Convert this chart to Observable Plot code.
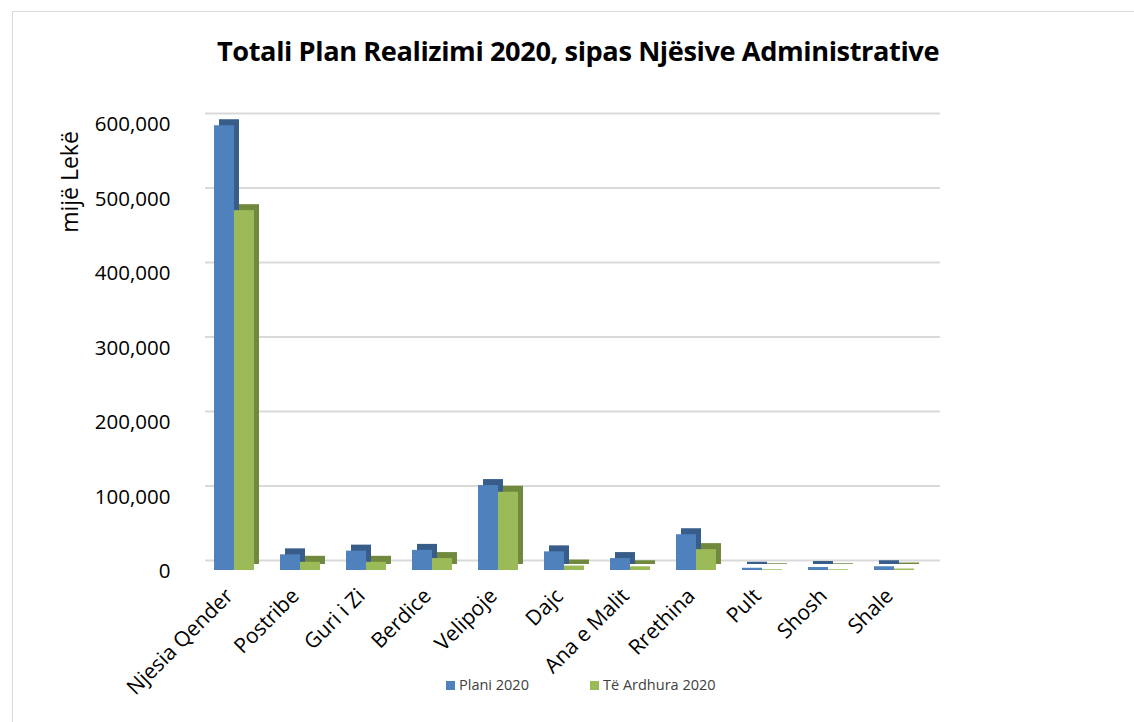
<!DOCTYPE html>
<html><head><meta charset="utf-8">
<script src="https://cdn.jsdelivr.net/npm/d3@7"></script>
<script src="https://cdn.jsdelivr.net/npm/@observablehq/plot@0.6"></script>
<style>
body{margin:0;background:#fff;font-family:"Open Sans",sans-serif;}
#wrap{position:relative;width:1134px;height:722px;overflow:hidden;}
#frame{position:absolute;left:12px;top:11px;width:1140px;height:740px;border:1px solid #d9d9d9;}
#title{position:absolute;left:0;width:1156px;top:32px;text-align:center;font-weight:700;font-size:27.2px;color:#000;letter-spacing:-0.4px;}
#ylab{position:absolute;left:69px;top:182px;transform:translate(-50%,-50%) rotate(-90deg);font-size:23px;color:#000;white-space:nowrap;}
.lg{position:absolute;top:675px;font-size:14.5px;color:#404040;white-space:nowrap;}
.lg span.sw{display:inline-block;width:9px;height:9px;margin-right:4px;vertical-align:0px;}
#chart{position:absolute;left:0;top:0;}
</style></head>
<body>
<div id="wrap">
<div id="frame"></div>
<div id="chart"></div>
<div id="title">Totali Plan Realizimi 2020, sipas Njësive Administrative</div>
<div id="ylab">mijë Lekë</div>
</div>
<script>
const categories = ["Njesia Qender","Postribe","Guri i Zi","Berdice","Velipoje","Dajc","Ana e Malit","Rrethina","Pult","Shosh","Shale"];
const seriesNames = ["Plani 2020","Të Ardhura 2020"];
const plani = [597000, 21000, 26000, 27000, 114000, 25000, 16000, 48000, 3000, 4000, 5000];
const ardhura = [483000, 11000, 11000, 16000, 105000, 6000, 5000, 28000, 1000, 1000, 2000];
const yTicks = [0,100000,200000,300000,400000,500000,600000];
const colors = ["#4F81BD","#9BBB59"];
const darkColors = ["#385D8A","#71893F"];

const planiData = categories.map((c,i)=>({cat:c, value:plani[i]}));
const ardhuraData = categories.map((c,i)=>({cat:c, value:ardhura[i]}));

const fmt = d3.format(",");
const chart = Plot.plot({
  width:1134, height:722,
  marginTop:123, marginBottom:152, marginLeft:205, marginRight:194,
  style:{fontFamily:"Open Sans, sans-serif", background:"transparent", color:"#000"},
  x:{domain:categories, paddingInner:0.4, paddingOuter:0.2},
  y:{domain:[0,600000]},
  marks:[
    Plot.ruleY(yTicks, {y:d=>d, stroke:"#d9d9d9", strokeWidth:2, dy:-10}),
    Plot.axisY({ticks:yTicks, tickFormat:fmt, tickSize:0, tickPadding:35, fontSize:20.5, fill:"#000", label:null, dy:1}),
    Plot.axisX({tickRotate:-45, tickSize:0, tickPadding:22, fontSize:21, fill:"#000", label:null, dx:-14}),
    // depth (side/top) faces
    Plot.barY(planiData, {x:"cat", y:"value", fill:darkColors[0], dx:-4, dy:-6, insetRight:20}),
    Plot.barY(ardhuraData, {x:"cat", y:"value", fill:darkColors[1], dx:-4, dy:-6, insetLeft:20}),
    // front faces
    Plot.barY(planiData, {x:"cat", y:"value", fill:colors[0], dx:-9, insetRight:20}),
    Plot.barY(ardhuraData, {x:"cat", y:"value", fill:colors[1], dx:-9, insetLeft:20})
  ]
});
document.getElementById("chart").appendChild(chart);

const wrap = document.getElementById("wrap");
const legendLeft = [446, 590];
seriesNames.forEach((s,i)=>{
  const item = document.createElement("div");
  item.className = "lg";
  item.style.left = legendLeft[i] + "px";
  item.innerHTML = `<span class="sw" style="background:${colors[i]}"></span>${s}`;
  wrap.appendChild(item);
});
</script>
</body></html>
